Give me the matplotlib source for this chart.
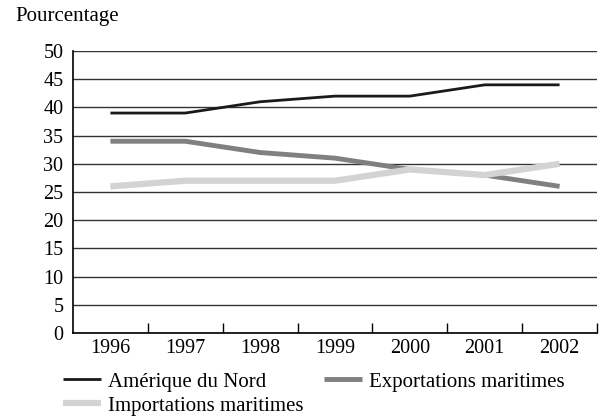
import matplotlib
matplotlib.use("Agg")
import matplotlib.pyplot as plt

years = ["1996", "1997", "1998", "1999", "2000", "2001", "2002"]
amerique = [39, 39, 41, 42, 42, 44, 44]
exportations = [34, 34, 32, 31, 29, 28, 26]
importations = [26, 27, 27, 27, 29, 28, 30]
yticks = [0, 5, 10, 15, 20, 25, 30, 35, 40, 45, 50]

plt.rcParams['font.family'] = ['Liberation Serif', 'DejaVu Serif']
plt.rcParams['font.size'] = 15

fig = plt.figure(figsize=(6.0, 4.17), dpi=100)
ax = fig.add_axes([73/600, 1 - 333/417, (597-73)/600, (333-51)/417])

x = list(range(len(years)))
ax.set_xlim(-0.5, len(years) - 0.5)
ax.set_ylim(0, 50)
ax.set_yticks(yticks)
ax.yaxis.grid(True, color='#333333', linewidth=1.0)
ax.set_axisbelow(True)

l2, = ax.plot(x, exportations, color='#808080', linewidth=3.5, solid_capstyle='butt')
l3, = ax.plot(x, importations, color='#d3d3d3', linewidth=4.5, solid_capstyle='butt')
l1, = ax.plot(x, amerique, color='#1a1a1a', linewidth=2.0, solid_capstyle='butt')

for s in ['top', 'right']:
    ax.spines[s].set_visible(False)
ax.spines['left'].set_linewidth(1.2)
ax.spines['bottom'].set_linewidth(1.2)

ax.set_xticks(x)
ax.set_xticklabels(years, fontsize=14.5)
ax.tick_params(axis='x', length=0, pad=4)
ax.set_xticks([i + 0.5 for i in x], minor=True)
ax.tick_params(axis='x', which='minor', direction='in', length=7, width=1)
ax.tick_params(axis='y', length=0, pad=7, labelsize=14.5)

fig.text(15/600, 1 - 17/417, "Pourcentage", ha='left', va='center', fontsize=15)

handles = [l1, l3, l2]
labels = ["Amérique du Nord", "Importations maritimes", "Exportations maritimes"]
leg = fig.legend(handles, labels, ncol=2, loc='upper left',
                 bbox_to_anchor=(63/600, 1 - 372/417), frameon=False,
                 handlelength=1.8, handletextpad=0.35, columnspacing=1.0,
                 labelspacing=0.22, borderaxespad=0, borderpad=0)

fig.savefig("out.png", dpi=100)
